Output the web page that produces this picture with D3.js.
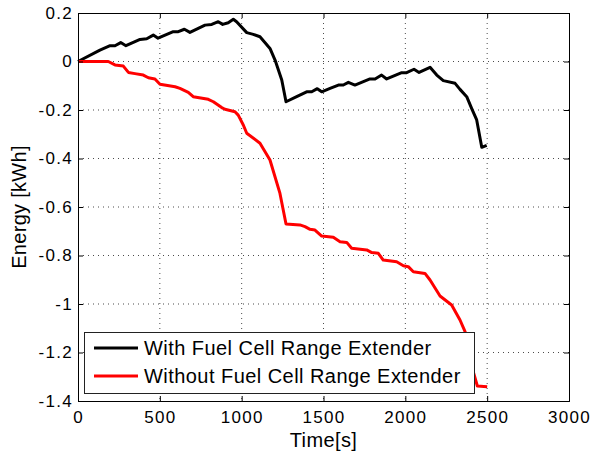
<!DOCTYPE html>
<html><head><meta charset="utf-8">
<script src="https://cdn.jsdelivr.net/npm/d3@7"></script>
<style>body{margin:0;background:#fff}svg{display:block}text{font-family:"Liberation Sans",Arial,sans-serif;fill:#000}</style>
</head><body>
<svg id="c" width="593" height="453"></svg>
<script>
const xTicks=[0,500,1000,1500,2000,2500,3000];
const yTicks=[0.2,0,-0.2,-0.4,-0.6,-0.8,-1,-1.2,-1.4];
const seriesNames=["With Fuel Cell Range Extender","Without Fuel Cell Range Extender"];
const withFC_t=[0,134,196,226,261,293,379,420,460,489,582,613,650,684,776,817,857,884,918,949,969,1031,1071,1112,1173,1204,1245,1271,1336,1397,1428,1462,1489,1540,1591,1621,1652,1692,1784,1815,1855,1886,1978,2008,2053,2084,2151,2192,2232,2304,2334,2375,2405,2436,2467,2497];
const withFC_e=[0,0.047,0.065,0.065,0.078,0.065,0.091,0.094,0.109,0.096,0.123,0.123,0.133,0.120,0.150,0.153,0.164,0.153,0.160,0.174,0.164,0.119,0.112,0.102,0.054,0.006,-0.076,-0.166,-0.145,-0.125,-0.125,-0.112,-0.125,-0.111,-0.097,-0.097,-0.086,-0.097,-0.072,-0.072,-0.056,-0.072,-0.046,-0.046,-0.032,-0.045,-0.024,-0.056,-0.079,-0.090,-0.115,-0.145,-0.193,-0.241,-0.354,-0.346];
const noFC_t=[0,185,226,277,308,348,399,430,470,501,593,623,674,704,796,827,878,898,959,979,1010,1031,1112,1173,1234,1271,1356,1387,1418,1448,1489,1560,1601,1642,1672,1764,1795,1835,1865,1947,1988,2018,2049,2120,2151,2212,2283,2334,2365,2390,2415,2440,2500];
const noFC_e=[0,0,-0.014,-0.019,-0.045,-0.050,-0.056,-0.067,-0.072,-0.094,-0.104,-0.111,-0.127,-0.145,-0.156,-0.166,-0.190,-0.197,-0.207,-0.221,-0.262,-0.296,-0.337,-0.406,-0.544,-0.670,-0.674,-0.681,-0.692,-0.695,-0.720,-0.725,-0.743,-0.746,-0.770,-0.777,-0.788,-0.791,-0.819,-0.826,-0.842,-0.846,-0.867,-0.874,-0.901,-0.967,-1.004,-1.066,-1.114,-1.19,-1.279,-1.338,-1.341];
const colors=["#000000","#ff0000"];

const L=78,R=569,T=13,B=401;
const svg=d3.select("#c");
const x=d3.scaleLinear().domain([0,3000]).range([L,R]);
const y=d3.scaleLinear().domain([-1.4,0.2]).range([B,T]);

// grid
const g=svg.append("g");
g.selectAll(".gx").data(xTicks.slice(1,-1)).join("line")
 .attr("x1",d=>x(d)).attr("x2",d=>x(d)).attr("y1",T).attr("y2",B)
 .attr("stroke","#000").attr("stroke-width",1).attr("stroke-dasharray","1,4").attr("opacity",0.7);
g.selectAll(".gy").data(yTicks.slice(1,-1)).join("line")
 .attr("y1",d=>y(d)).attr("y2",d=>y(d)).attr("x1",L).attr("x2",R)
 .attr("stroke","#000").attr("stroke-width",1).attr("stroke-dasharray","1,4").attr("opacity",0.7);

// lines
const line=d3.line().x(d=>x(d[0])).y(d=>y(d[1]));
const s1=withFC_t.map((t,i)=>[t,withFC_e[i]]);
const s2=noFC_t.map((t,i)=>[t,noFC_e[i]]);
svg.append("path").attr("d",line(s1)).attr("fill","none").attr("stroke",colors[0]).attr("stroke-width",3).attr("stroke-linejoin","round");
svg.append("path").attr("d",line(s2)).attr("fill","none").attr("stroke",colors[1]).attr("stroke-width",3).attr("stroke-linejoin","round");

// axes
const ax=svg.append("g").attr("transform",`translate(0,${B})`).call(d3.axisBottom(x).tickValues(xTicks).tickSize(-5).tickPadding(10).tickFormat(d3.format("d")));
const axT=svg.append("g").attr("transform",`translate(0,${T})`).call(d3.axisTop(x).tickValues(xTicks).tickSize(-5).tickFormat(""));
const ay=svg.append("g").attr("transform",`translate(${L},0)`).call(d3.axisLeft(y).tickValues(yTicks).tickSize(-5).tickPadding(5).tickFormat(d=>Math.abs(d)<1e-9?"0":String(+d.toFixed(1))));
const ayR=svg.append("g").attr("transform",`translate(${R},0)`).call(d3.axisRight(y).tickValues(yTicks).tickSize(-5).tickFormat(""));
[ax,axT,ay,ayR].forEach(a=>{a.select(".domain").attr("stroke","#000").attr("stroke-width",1);a.selectAll(".tick line").attr("stroke","#000");a.selectAll("text").attr("font-size",17).attr("letter-spacing","1.3px").attr("font-family","Liberation Sans, Arial, sans-serif").attr("fill","#000");});
ax.selectAll("text").attr("dy","0.71em");

svg.append("text").attr("x",(L+R)/2).attr("y",447).attr("text-anchor","middle").attr("font-size",20).attr("letter-spacing","0.4px").text("Time[s]");
svg.append("text").attr("transform",`translate(26,${(T+B)/2}) rotate(-90)`).attr("text-anchor","middle").attr("font-size",20).attr("letter-spacing","0.3px").text("Energy [kWh]");

// legend
const lg=svg.append("g");
lg.append("rect").attr("x",84.5).attr("y",332.5).attr("width",390).attr("height",61).attr("fill","#fff").attr("stroke","#222").attr("stroke-width",1);
seriesNames.forEach((n,i)=>{
 const yy=348+i*28;
 lg.append("line").attr("x1",94).attr("x2",138).attr("y1",yy).attr("y2",yy).attr("stroke",colors[i]).attr("stroke-width",3);
 lg.append("text").attr("x",144).attr("y",yy).attr("dy","0.35em").attr("font-size",20).attr("letter-spacing","0.45px").text(n);
});
</script>
</body></html>
